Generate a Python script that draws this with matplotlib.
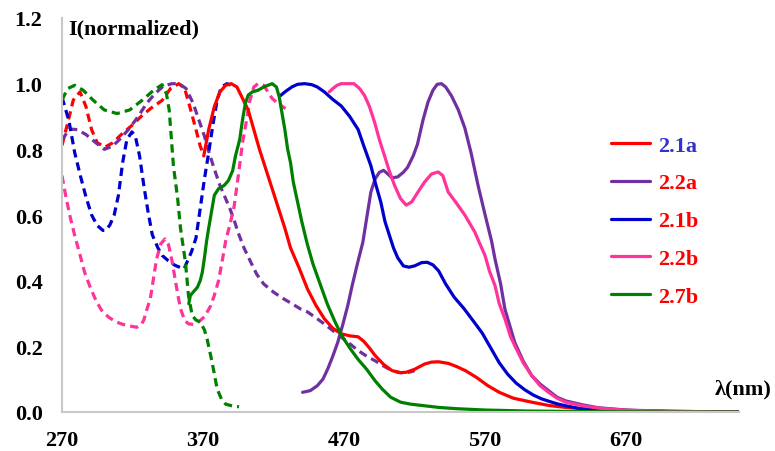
import matplotlib
matplotlib.use("Agg")
import matplotlib.pyplot as plt

# ---------------- data (wavelength nm, normalized intensity) ----------------
# absorption (dashed)
abs_21a_x = [270, 274, 278, 282.8, 287, 291, 295, 300.6, 306, 312, 319.6, 326, 333, 341, 346.9, 352.8, 357, 361, 365, 368, 370.6]
abs_21a_y = [0.812, 0.88, 0.95, 0.975, 0.93, 0.86, 0.82, 0.807, 0.82, 0.845, 0.873, 0.90, 0.925, 0.949, 0.985, 1.0, 0.985, 0.924, 0.86, 0.81, 0.78]

abs_22a_x = [270, 275, 281, 287, 294, 300, 306, 312, 318, 324, 330, 336, 342, 348, 353, 358, 363, 367, 371, 375, 378, 382, 385, 389, 392, 395, 399, 404, 408, 413, 420, 427, 433, 439, 444, 450, 456, 462, 468, 474, 480, 486, 492, 498, 504, 509, 513, 517, 520]
abs_22a_y = [0.827, 0.862, 0.86, 0.845, 0.82, 0.80, 0.81, 0.835, 0.865, 0.90, 0.94, 0.97, 0.993, 1.0, 1.0, 0.985, 0.94, 0.89, 0.84, 0.78, 0.74, 0.69, 0.66, 0.62, 0.585, 0.545, 0.50, 0.455, 0.42, 0.39, 0.365, 0.345, 0.33, 0.314, 0.305, 0.287, 0.268, 0.248, 0.228, 0.208, 0.187, 0.17, 0.156, 0.14, 0.126, 0.12, 0.119, 0.122, 0.126]

abs_21b_x = [270, 272, 275, 279, 283, 287, 291, 295, 299, 301, 304, 307, 310, 313, 316, 319.6, 322, 325, 328, 331, 334, 338, 341, 345, 350, 354, 356.5, 359, 362, 365, 368, 371, 374, 377, 380, 383, 387, 390, 393]
abs_21b_y = [0.959, 0.93, 0.885, 0.79, 0.72, 0.655, 0.60, 0.568, 0.553, 0.553, 0.57, 0.60, 0.66, 0.76, 0.83, 0.853, 0.84, 0.78, 0.69, 0.61, 0.54, 0.50, 0.477, 0.462, 0.447, 0.44, 0.436, 0.46, 0.49, 0.53, 0.62, 0.71, 0.79, 0.875, 0.95, 0.99, 1.0, 0.995, 0.99]

abs_22b_x = [270, 273, 276, 279, 283, 286, 290, 294, 298, 303, 308, 313, 318, 323, 326, 328, 330, 332.6, 335, 337, 340, 343, 345.5, 348, 350, 352, 354, 357, 360, 363, 367, 371, 375, 378, 381, 384, 386, 389, 392, 395, 398, 400.5, 403, 406, 409, 413, 416, 419, 423, 428.5]
abs_22b_y = [0.72, 0.65, 0.59, 0.538, 0.475, 0.426, 0.38, 0.34, 0.31, 0.289, 0.275, 0.267, 0.262, 0.258, 0.265, 0.28, 0.31, 0.345, 0.41, 0.465, 0.512, 0.527, 0.51, 0.46, 0.41, 0.36, 0.315, 0.278, 0.268, 0.267, 0.275, 0.29, 0.32, 0.355, 0.40, 0.47, 0.52, 0.57, 0.625, 0.72, 0.82, 0.88, 0.945, 0.99, 1.0, 0.995, 0.975, 0.955, 0.94, 0.924]

abs_27b_x = [270, 274, 279, 285, 292, 300, 309, 318, 327, 335, 341, 344, 346, 349, 352, 354, 357.5, 359.7, 362.3, 365, 368, 371, 373, 376.5, 380, 383, 386, 391, 395.5]
abs_27b_y = [0.95, 0.985, 0.995, 0.98, 0.95, 0.92, 0.909, 0.92, 0.95, 0.98, 0.997, 0.97, 0.92, 0.75, 0.65, 0.56, 0.457, 0.354, 0.294, 0.28, 0.274, 0.25, 0.22, 0.15, 0.07, 0.04, 0.024, 0.018, 0.016]

# emission (solid)
em_21a_x = [370.5, 374, 378, 382, 386, 390, 394, 398, 402, 406, 410, 416, 422, 428, 432, 438, 444, 450, 456, 462, 468, 474, 480, 484, 488, 492, 498, 504, 510, 514, 520, 527, 532, 537, 544, 550, 556, 564, 572, 580, 590, 603, 615, 627, 650, 700, 750]
em_21a_y = [0.78, 0.86, 0.93, 0.975, 0.995, 1.0, 0.99, 0.955, 0.92, 0.86, 0.80, 0.72, 0.64, 0.56, 0.50, 0.44, 0.375, 0.325, 0.284, 0.255, 0.238, 0.232, 0.229, 0.215, 0.195, 0.172, 0.145, 0.126, 0.12, 0.121, 0.13, 0.146, 0.152, 0.153, 0.148, 0.138, 0.126, 0.105, 0.08, 0.06, 0.042, 0.03, 0.02, 0.014, 0.007, 0.002, 0.0]

em_22a_x = [440.6, 446, 451, 455, 458.4, 462, 465.5, 469, 472.6, 476, 479.7, 483.3, 486, 489, 492, 495, 498, 501, 504, 508, 512, 515, 519, 522, 526, 529.5, 533, 536, 539, 542, 546, 551, 555.6, 560, 565, 570, 574.6, 577, 581, 584, 587, 591, 597, 603, 609, 615, 621, 627, 639, 650, 670, 700, 750]
em_22a_y = [0.06, 0.065, 0.08, 0.10, 0.131, 0.17, 0.212, 0.265, 0.324, 0.39, 0.456, 0.517, 0.59, 0.67, 0.71, 0.73, 0.736, 0.725, 0.713, 0.716, 0.73, 0.745, 0.78, 0.815, 0.89, 0.944, 0.98, 0.998, 1.0, 0.99, 0.964, 0.92, 0.865, 0.79, 0.69, 0.60, 0.52, 0.466, 0.39, 0.314, 0.27, 0.212, 0.155, 0.111, 0.085, 0.065, 0.045, 0.034, 0.022, 0.013, 0.006, 0.002, 0.0]

em_21b_x = [425, 429, 433, 437, 442, 447, 451, 456, 462, 468, 474, 480, 484, 489, 492, 496, 499, 502, 505, 508, 512, 516, 520, 525, 529, 533, 537, 542, 548, 555, 562, 568, 574, 580, 586, 592, 598, 604, 610, 615, 621, 627, 633, 639, 650, 680, 750]
em_21b_y = [0.964, 0.978, 0.99, 0.998, 1.0, 0.997, 0.99, 0.975, 0.952, 0.932, 0.9, 0.86, 0.81, 0.75, 0.70, 0.64, 0.58, 0.54, 0.50, 0.47, 0.445, 0.441, 0.445, 0.455, 0.456, 0.448, 0.43, 0.39, 0.35, 0.315, 0.275, 0.24, 0.195, 0.15, 0.115, 0.088, 0.068, 0.052, 0.04, 0.033, 0.025, 0.019, 0.014, 0.009, 0.005, 0.002, 0.0]

em_22b_x = [459.5, 462, 465, 468, 472, 477, 481, 484.5, 488, 491.6, 495, 498.7, 502, 505.8, 510, 514, 518, 522.4, 527, 532, 536.7, 540, 543.8, 549, 555.6, 562.7, 566, 569.9, 573, 577, 580, 584, 588, 591, 597, 603, 609, 615, 621, 627, 639, 650, 670, 700, 750]
em_22b_y = [0.975, 0.985, 0.995, 1.0, 1.0, 1.0, 0.985, 0.964, 0.93, 0.883, 0.83, 0.78, 0.735, 0.69, 0.65, 0.63, 0.64, 0.67, 0.70, 0.725, 0.731, 0.72, 0.67, 0.64, 0.60, 0.548, 0.515, 0.477, 0.43, 0.385, 0.33, 0.284, 0.23, 0.202, 0.15, 0.111, 0.08, 0.06, 0.042, 0.03, 0.019, 0.012, 0.005, 0.002, 0.0]

em_27b_x = [359.9, 361, 364, 366, 368, 369.5, 371, 372.5, 374, 376, 378, 381, 385, 388, 391, 393, 396, 398, 400, 402, 405, 409, 413, 416, 419, 422, 424, 426, 428, 430, 432, 434, 437, 440, 444, 448, 453, 458, 463, 468, 474, 480, 486, 492, 497, 503, 510, 517, 525, 537, 550, 570, 600, 650, 700, 750]
em_27b_y = [0.33, 0.355, 0.37, 0.38, 0.40, 0.426, 0.47, 0.52, 0.56, 0.61, 0.66, 0.68, 0.69, 0.705, 0.735, 0.78, 0.83, 0.89, 0.94, 0.965, 0.975, 0.98, 0.99, 0.995, 1.0, 0.99, 0.96, 0.91, 0.86, 0.80, 0.76, 0.70, 0.64, 0.58, 0.51, 0.45, 0.39, 0.33, 0.28, 0.235, 0.195, 0.16, 0.13, 0.095, 0.07, 0.045, 0.03, 0.024, 0.02, 0.014, 0.01, 0.006, 0.003, 0.001, 0.0, 0.0]

labels = ["2.1a", "2.2a", "2.1b", "2.2b", "2.7b"]
label_colors = ["#3333CC", "#FF0000", "#FF0000", "#FF0000", "#FF0000"]
colors = ["#FF0000", "#7030A0", "#0000CC", "#FF3399", "#008000"]
x_ticks = [270, 370, 470, 570, 670]
y_ticks = [0.0, 0.2, 0.4, 0.6, 0.8, 1.0, 1.2]

abs_series = [(abs_21a_x, abs_21a_y), (abs_22a_x, abs_22a_y), (abs_21b_x, abs_21b_y),
              (abs_22b_x, abs_22b_y), (abs_27b_x, abs_27b_y)]
em_series = [(em_21a_x, em_21a_y), (em_22a_x, em_22a_y), (em_21b_x, em_21b_y),
             (em_22b_x, em_22b_y), (em_27b_x, em_27b_y)]

# ---------------- figure ----------------
plt.rcParams['font.family'] = ['Liberation Serif', 'DejaVu Serif']
plt.rcParams['font.weight'] = 'bold'

fig = plt.figure(figsize=(7.75, 4.52), dpi=100)
ax = fig.add_axes([62/775, 1 - 413/452, (739-62)/775, (413-19)/452])

lw = 2.3
for (x, y), c in zip(abs_series, colors):
    ax.plot(x, y, color=c, lw=lw, linestyle=(0, (2.6, 1.6)), dash_capstyle='butt',
            solid_joinstyle='round')
handles = []
for (x, y), c in zip(em_series, colors):
    h, = ax.plot(x, y, color=c, lw=lw, solid_joinstyle='round', solid_capstyle='round')
    handles.append(h)

ax.set_xlim(270, 750)
ax.set_ylim(0, 1.2)
ax.set_xticks(x_ticks)
ax.set_xticklabels([str(t) for t in x_ticks])
ax.set_yticks(y_ticks)
ax.set_yticklabels([f"{t:.1f}" for t in y_ticks])
ax.tick_params(axis='both', length=0, labelsize=16)
ax.tick_params(axis='y', pad=14)
ax.tick_params(axis='x', pad=13)
for lab in ax.get_xticklabels() + ax.get_yticklabels():
    lab.set_fontweight('bold')

for side in ['top', 'right']:
    ax.spines[side].set_visible(False)
for side in ['left', 'bottom']:
    ax.spines[side].set_color('#C8C8C8')
    ax.spines[side].set_linewidth(1.5)

fig.text(68/775, 1 - 29/452, "I(normalized)", fontsize=16, fontweight='bold',
         ha='left', va='center')
fig.text(743/775, 1 - 389/452, "λ(nm)", fontsize=16, fontweight='bold',
         ha='center', va='center')

leg = ax.legend(handles, labels, loc='upper left', bbox_to_anchor=(611/775, 1 - 136/452),
                bbox_transform=fig.transFigure, frameon=False, fontsize=16,
                handlelength=1.75, handletextpad=0.35, labelspacing=0.78,
                borderpad=0, borderaxespad=0)
for t, c in zip(leg.get_texts(), label_colors):
    t.set_color(c)
    t.set_fontweight('bold')

fig.savefig("out.png", dpi=100)
